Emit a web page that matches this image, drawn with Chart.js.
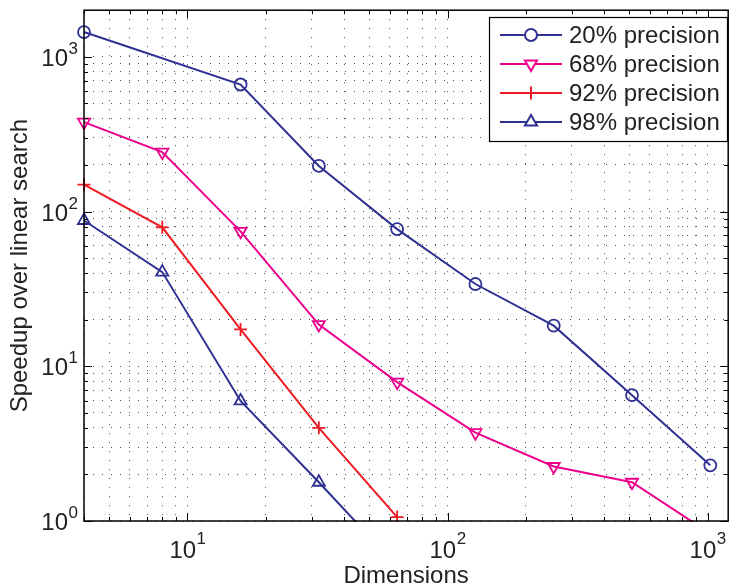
<!DOCTYPE html>
<html>
<head>
<meta charset="utf-8">
<script src="https://cdn.jsdelivr.net/npm/chart.js@4.4.0/dist/chart.umd.min.js"></script>
<style>
  html, body { margin: 0; padding: 0; background: #fff; }
  #wrap { width: 737px; height: 588px; }
</style>
</head>
<body>
<div id="wrap"><canvas id="chart"></canvas></div>
<script>
// ===== Data =====
const dims = [4, 8, 16, 32, 64, 128, 256, 512, 1024];
const prec20 = [1445, null, 662, 197, 77, 34, 18.3, 6.5, 2.29];
const prec68 = [378, 242, 74.5, 18.6, 7.9, 3.72, 2.25, 1.78, 0.83];
const prec92 = [149, 79, 17.3, 4.0, 1.06, null, null, null, null];
const prec98 = [87.5, 40.6, 5.97, 1.78, 0.51, null, null, null, null];
const seriesLabels = ["20% precision", "68% precision", "92% precision", "98% precision"];
const xRange = [4, 1200];
const yRange = [1, 2000];

const FONT = "'Liberation Sans', Arial, Helvetica, sans-serif";
const BLUE = "#2E3192", MAGENTA = "#EC008C", RED = "#ED1C24";
const INK = "#222";

function toPoints(ys) {
  return dims.map((x, i) => ({ x, y: ys[i] })).filter(p => p.y !== null);
}

// keep only 1..9 x 10^n ticks (drop chart.js' 15/150 extras)
function cleanTicks(scale) {
  scale.ticks = scale.ticks.filter(t => {
    const e = Math.floor(Math.log10(t.value) + 1e-9);
    const s = t.value / Math.pow(10, e);
    return Math.abs(s - Math.round(s)) < 1e-6;
  });
}
function isDecade(v) {
  const e = Math.log10(v);
  return Math.abs(e - Math.round(e)) < 1e-9;
}

// box + inward tick marks (matlab style)
const framePlugin = {
  id: "frame",
  afterDatasetsDraw(chart) {
    const { ctx, chartArea: a, scales } = chart;
    ctx.save();
    ctx.strokeStyle = "#000";
    ctx.lineWidth = 1;
    ctx.beginPath();
    scales.x.ticks.forEach(t => {
      const px = Math.round(scales.x.getPixelForValue(t.value)) + 0.5;
      const len = isDecade(t.value) ? 8 : 4;
      ctx.moveTo(px, a.bottom); ctx.lineTo(px, a.bottom - len);
      ctx.moveTo(px, a.top); ctx.lineTo(px, a.top + len);
    });
    scales.y.ticks.forEach(t => {
      const py = Math.round(scales.y.getPixelForValue(t.value)) + 0.5;
      const len = isDecade(t.value) ? 8 : 4;
      ctx.moveTo(a.left, py); ctx.lineTo(a.left + len, py);
      ctx.moveTo(a.right, py); ctx.lineTo(a.right - len, py);
    });
    ctx.stroke();
    ctx.lineWidth = 1.5;
    ctx.strokeRect(a.left, a.top, a.right - a.left, a.bottom - a.top);
    ctx.restore();
  }
};

// 10^n labels with a real superscript
const powLabels = {
  id: "powLabels",
  afterDraw(chart) {
    const { ctx, scales } = chart;
    ctx.save();
    ctx.fillStyle = INK;
    ctx.textBaseline = "alphabetic";
    scales.y.ticks.filter(t => isDecade(t.value)).forEach(t => {
      const py = scales.y.getPixelForValue(t.value);
      const ex = String(Math.round(Math.log10(t.value)));
      ctx.font = "24px " + FONT;
      ctx.textAlign = "right";
      ctx.fillText("10", 68, py + 9);
      ctx.font = "17px " + FONT;
      ctx.textAlign = "left";
      ctx.fillText(ex, 68.5, py - 3);
    });
    scales.x.ticks.filter(t => isDecade(t.value)).forEach(t => {
      const px = scales.x.getPixelForValue(t.value);
      const ex = String(Math.round(Math.log10(t.value)));
      ctx.font = "24px " + FONT;
      const w1 = ctx.measureText("10").width;
      ctx.font = "17px " + FONT;
      const w2 = ctx.measureText(ex).width;
      const x0 = px - (w1 + w2) / 2;
      ctx.textAlign = "left";
      ctx.font = "24px " + FONT;
      ctx.fillText("10", x0, 558);
      ctx.font = "17px " + FONT;
      ctx.fillText(ex, x0 + w1 + 0.5, 544);
    });
    ctx.restore();
  }
};

// legend inside the plot, top right
const boxLegend = {
  id: "boxLegend",
  afterDraw(chart) {
    const { ctx } = chart;
    const bx = 489, by = 17, bw = 238, bh = 124, rowH = 29;
    ctx.save();
    ctx.fillStyle = "#fff";
    ctx.fillRect(bx, by, bw, bh);
    ctx.strokeStyle = "#000";
    ctx.lineWidth = 1.2;
    ctx.strokeRect(bx + 0.5, by + 0.5, bw, bh);
    chart.data.datasets.forEach((ds, i) => {
      const y = by + 18 + i * rowH;
      ctx.strokeStyle = ds.borderColor;
      ctx.lineWidth = ds.borderWidth;
      ctx.beginPath();
      ctx.moveTo(500, y); ctx.lineTo(562, y);
      ctx.stroke();
      ctx.fillStyle = "#fff";
      Chart.helpers.drawPoint(ctx, {
        pointStyle: ds.pointStyle, radius: ds.pointRadius,
        rotation: ds.pointRotation || 0, borderWidth: ds.pointBorderWidth
      }, 531, y);
      ctx.fillStyle = INK;
      ctx.font = "24px " + FONT;
      ctx.textBaseline = "middle";
      ctx.textAlign = "left";
      ctx.fillText(ds.label, 569, y + 1);
    });
    ctx.restore();
  }
};

function series(label, ys, color, style, rot, r) {
  return {
    label, data: toPoints(ys),
    borderColor: color, backgroundColor: color,
    borderWidth: 2, pointStyle: style, pointRotation: rot,
    pointRadius: r, pointBorderWidth: 1.8, pointBorderColor: color,
    pointBackgroundColor: "rgba(0,0,0,0)",
    spanGaps: true, tension: 0,
    clip: { left: 10, top: 10, right: 10, bottom: 1 }
  };
}

const gridOpts = { color: "rgba(0,0,0,0.7)", lineWidth: 1, drawTicks: false };
const borderOpts = { display: false, dash: [1, 8] };

new Chart(document.getElementById("chart"), {
  type: "line",
  data: {
    datasets: [
      series(seriesLabels[0], prec20, BLUE, "circle", 0, 6),
      series(seriesLabels[1], prec68, MAGENTA, "triangle", 180, 7),
      series(seriesLabels[2], prec92, RED, "cross", 0, 6.5),
      series(seriesLabels[3], prec98, BLUE, "triangle", 0, 7)
    ]
  },
  options: {
    responsive: true, maintainAspectRatio: false, animation: false,
    layout: { padding: { top: 7, right: 2, left: 0, bottom: 0 } },
    plugins: { legend: { display: false }, tooltip: { enabled: false } },
    scales: {
      x: {
        type: "logarithmic", min: xRange[0], max: xRange[1],
        afterBuildTicks: cleanTicks,
        afterFit: s => { s.height = 67; },
        grid: gridOpts, border: borderOpts,
        ticks: { autoSkip: false, maxRotation: 0, callback: () => "" },
        title: { display: true, text: "Dimensions", color: INK,
          font: { family: FONT, size: 24, lineHeight: 1 }, padding: { top: 0, bottom: 0 } }
      },
      y: {
        type: "logarithmic", min: yRange[0], max: yRange[1],
        afterBuildTicks: cleanTicks,
        afterFit: s => { s.width = 84; },
        grid: gridOpts, border: borderOpts,
        ticks: { autoSkip: false, callback: () => "" },
        title: { display: true, text: "Speedup over linear search", color: INK,
          font: { family: FONT, size: 24, lineHeight: 1 }, padding: { top: 8, bottom: 0 } }
      }
    }
  },
  plugins: [framePlugin, powLabels, boxLegend]
});
</script>
</body>
</html>
